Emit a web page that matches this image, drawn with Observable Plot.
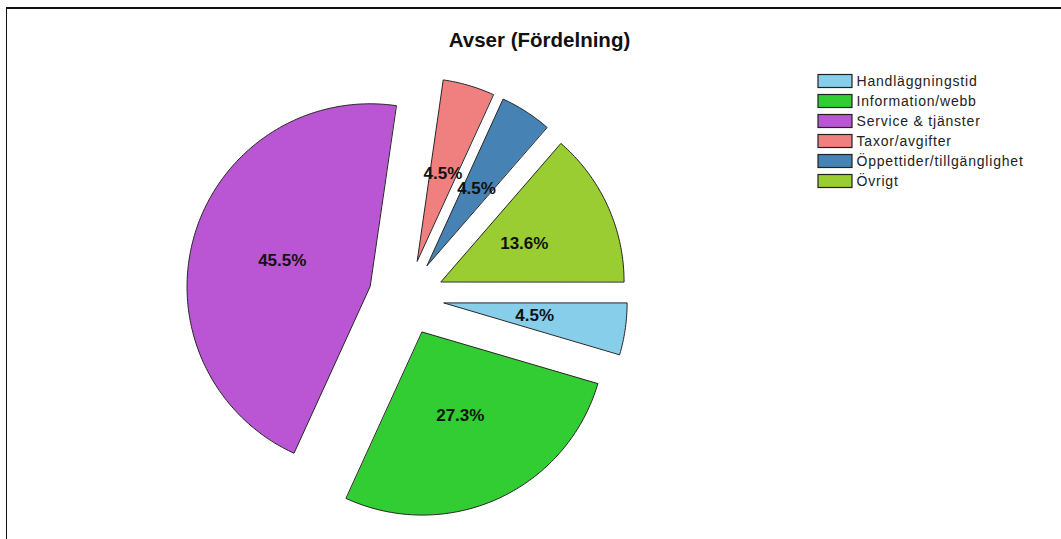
<!DOCTYPE html>
<html>
<head>
<meta charset="utf-8">
<script src="https://cdn.jsdelivr.net/npm/d3@7"></script>
<script src="https://cdn.jsdelivr.net/npm/@observablehq/plot@0.6"></script>
<style>
  html, body { margin: 0; padding: 0; background: #fff; }
  #wrap { position: relative; width: 1061px; height: 539px; overflow: hidden; }
  #frame { position: absolute; left: 6px; top: 7px; right: -5px; bottom: -5px;
           border-top: 2px solid #111; border-left: 1.5px solid #111; pointer-events: none; }
  svg { display: block; }
</style>
</head>
<body>
<div id="wrap"><div id="frame"></div></div>
<script>
const title = "Avser (Fördelning)";
const categories = ["Handläggningstid", "Information/webb", "Service & tjänster", "Taxor/avgifter", "Öppettider/tillgänglighet", "Övrigt"];
const counts = [1, 6, 10, 1, 1, 3];
const colors = ["#87CEEB", "#32CD32", "#BA55D3", "#F08080", "#4682B4", "#9ACD32"];

const W = 1061, H = 539;
const cx = 406, cy = 297, R = 183, explode = 38, labelR = 0.5 * R;
const total = d3.sum(counts);

// build slice polygons
const polys = [];
const labels = [];
let acc = 0;
categories.forEach((name, i) => {
  const a0 = acc / total * 2 * Math.PI;
  acc += counts[i];
  const a1 = acc / total * 2 * Math.PI;
  const mid = (a0 + a1) / 2;
  const tx = cx + explode * Math.cos(mid), ty = cy + explode * Math.sin(mid);
  polys.push({name, x: tx, y: ty});
  const steps = Math.max(4, Math.ceil((a1 - a0) / (Math.PI / 180)));
  for (let k = 0; k <= steps; k++) {
    const a = a0 + (a1 - a0) * k / steps;
    polys.push({name, x: tx + R * Math.cos(a), y: ty + R * Math.sin(a)});
  }
  labels.push({name, x: tx + labelR * Math.cos(mid), y: ty + labelR * Math.sin(mid),
               text: (counts[i] / total * 100).toFixed(1) + "%"});
});

// legend layout
const lgX = 818, lgY = 81, lgStep = 20, swW = 34, swH = 13;
const legend = categories.map((name, i) => ({name, y: lgY + i * lgStep}));

const plot = Plot.plot({
  width: W, height: H,
  margin: 0,
  x: {domain: [0, W], range: [0, W], axis: null},
  y: {domain: [0, H], range: [0, H], axis: null},
  color: {domain: categories, range: colors},
  style: {fontFamily: "'Liberation Sans', Arial, sans-serif", background: "transparent"},
  marks: [
    Plot.line(polys, {x: "x", y: "y", z: "name", fill: "name", stroke: "#262626", strokeWidth: 1, curve: "linear-closed"}),
    Plot.text(labels, {x: "x", y: "y", text: "text", fontSize: 17, fontWeight: "bold", fill: "#111"}),
    Plot.text([title], {x: () => 539, y: () => 40, text: d => d, fontSize: 20.5, fontWeight: "bold", fill: "#111"}),
    Plot.rect(legend, {x1: () => lgX, x2: () => lgX + swW, y1: d => d.y - swH / 2, y2: d => d.y + swH / 2, fill: "name", stroke: "#222", strokeWidth: 1.2}),
    Plot.text(legend, {x: () => lgX + swW + 4, y: "y", text: "name", textAnchor: "start", fontSize: 14, fill: "#222"})
  ]
});
const textGroups = plot.querySelectorAll("g[aria-label='text']");
textGroups[textGroups.length - 1].setAttribute("letter-spacing", "0.8");
document.getElementById("wrap").prepend(plot);
</script>
</body>
</html>
